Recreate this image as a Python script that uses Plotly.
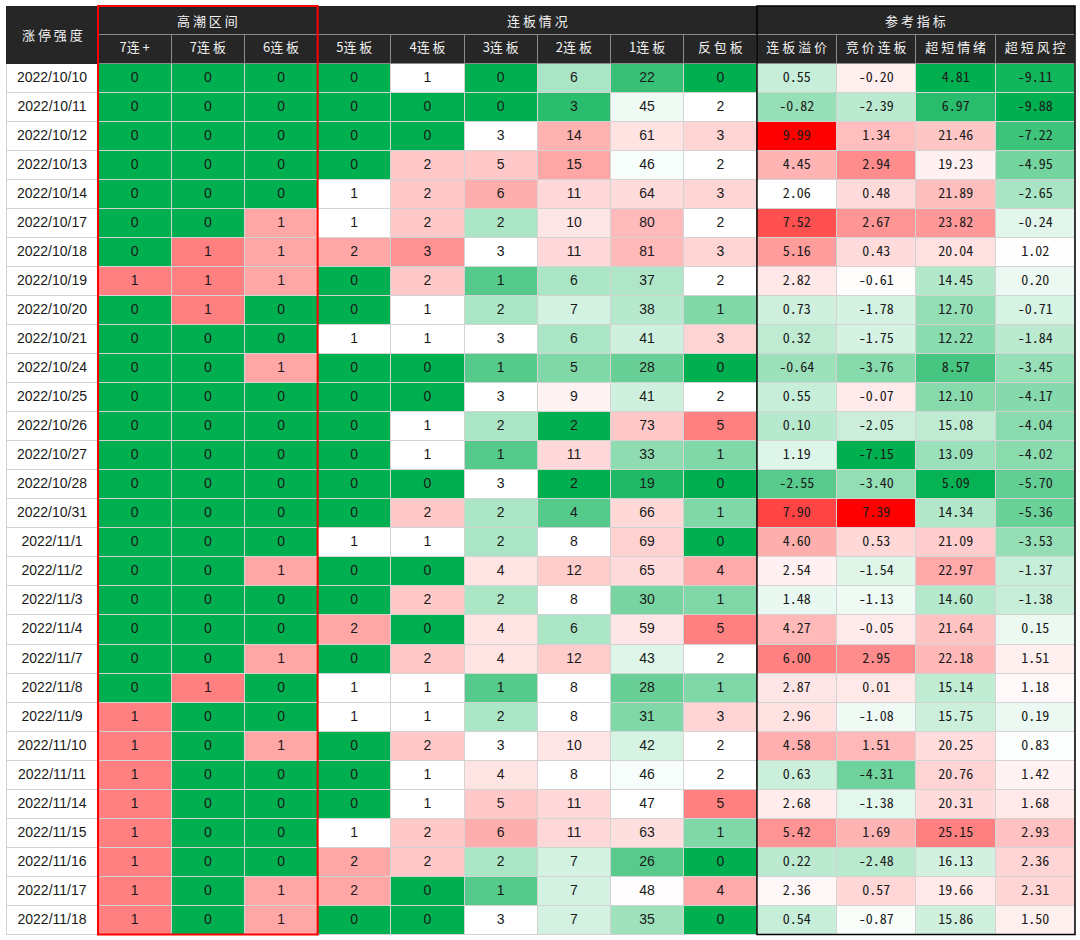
import plotly.graph_objects as go

dates = [
    "2022/10/10", "2022/10/11", "2022/10/12", "2022/10/13", "2022/10/14",
    "2022/10/17", "2022/10/18", "2022/10/19", "2022/10/20", "2022/10/21",
    "2022/10/24", "2022/10/25", "2022/10/26", "2022/10/27", "2022/10/28",
    "2022/10/31", "2022/11/1", "2022/11/2", "2022/11/3", "2022/11/4",
    "2022/11/7", "2022/11/8", "2022/11/9", "2022/11/10", "2022/11/11",
    "2022/11/14", "2022/11/15", "2022/11/16", "2022/11/17", "2022/11/18",
]

lb7_plus = [0, 0, 0, 0, 0, 0, 0, 1, 0, 0, 0, 0, 0, 0, 0, 0, 0, 0, 0, 0, 0, 0, 1, 1, 1, 1, 1, 1, 1, 1]
lb7 = [0, 0, 0, 0, 0, 0, 1, 1, 1, 0, 0, 0, 0, 0, 0, 0, 0, 0, 0, 0, 0, 1, 0, 0, 0, 0, 0, 0, 0, 0]
lb6 = [0, 0, 0, 0, 0, 1, 1, 1, 0, 0, 1, 0, 0, 0, 0, 0, 0, 1, 0, 0, 1, 0, 0, 1, 0, 0, 0, 0, 1, 1]
lb5 = [0, 0, 0, 0, 1, 1, 2, 0, 0, 1, 0, 0, 0, 0, 0, 0, 1, 0, 0, 2, 0, 1, 1, 0, 0, 0, 1, 2, 2, 0]
lb4 = [1, 0, 0, 2, 2, 2, 3, 2, 1, 1, 0, 0, 1, 1, 0, 2, 1, 0, 2, 0, 2, 1, 1, 2, 1, 1, 2, 2, 0, 0]
lb3 = [0, 0, 3, 5, 6, 2, 3, 1, 2, 3, 1, 3, 2, 1, 3, 2, 2, 4, 2, 4, 4, 1, 2, 3, 4, 5, 6, 2, 1, 3]
lb2 = [6, 3, 14, 15, 11, 10, 11, 6, 7, 6, 5, 9, 2, 11, 2, 4, 8, 12, 8, 6, 12, 8, 8, 10, 8, 11, 11, 7, 7, 7]
lb1 = [22, 45, 61, 46, 64, 80, 81, 37, 38, 41, 28, 41, 73, 33, 19, 66, 69, 65, 30, 59, 43, 28, 31, 42, 46, 47, 63, 26, 48, 35]
fanbao = [0, 2, 3, 2, 3, 2, 3, 2, 1, 3, 0, 2, 5, 1, 0, 1, 0, 4, 1, 5, 2, 1, 3, 2, 2, 5, 1, 0, 4, 0]
premium = [0.55, -0.82, 9.99, 4.45, 2.06, 7.52, 5.16, 2.82, 0.73, 0.32, -0.64, 0.55, 0.10, 1.19, -2.55,
           7.90, 4.60, 2.54, 1.48, 4.27, 6.00, 2.87, 2.96, 4.58, 0.63, 2.68, 5.42, 0.22, 2.36, 0.54]
auction = [-0.20, -2.39, 1.34, 2.94, 0.48, 2.67, 0.43, -0.61, -1.78, -1.75, -3.76, -0.07, -2.05, -7.15, -3.40,
           7.39, 0.53, -1.54, -1.13, -0.05, 2.95, 0.01, -1.08, 1.51, -4.31, -1.38, 1.69, -2.48, 0.57, -0.87]
mood = [4.81, 6.97, 21.46, 19.23, 21.89, 23.82, 20.04, 14.45, 12.70, 12.22, 8.57, 12.10, 15.08, 13.09, 5.09,
        14.34, 21.09, 22.97, 14.60, 21.64, 22.18, 15.14, 15.75, 20.25, 20.76, 20.31, 25.15, 16.13, 19.66, 15.86]
risk = [-9.11, -9.88, -7.22, -4.95, -2.65, -0.24, 1.02, 0.20, -0.71, -1.84, -3.45, -4.17, -4.04, -4.02, -5.70,
        -5.36, -3.53, -1.37, -1.38, 0.15, 1.51, 1.18, 0.19, 0.83, 1.42, 1.68, 2.93, 2.36, 2.31, 1.50]

col_names = ["7连+", "7连板", "6连板", "5连板", "4连板", "3连板", "2连板", "1连板", "反包板",
             "连板溢价", "竞价连板", "超短情绪", "超短风控"]
groups = [("高潮区间", 1, 4), ("连板情况", 4, 10), ("参考指标", 10, 14)]

int_cols = [lb7_plus, lb7, lb6, lb5, lb4, lb3, lb2, lb1, fanbao]
float_cols = [premium, auction, mood, risk]

# (value at full green, value at white, value at full red) per column
anchors = [(0, 0.5, 1.5), (0, 0.5, 1.5), (0, 0.5, 1.93), (0, 1, 3.9), (0, 1, 5.7),
           (0, 3, 12.5), (2, 8, 28), (15, 47, 170), (0, 2, 8),
           (-5, 2.1, 9.99), (-7.15, -0.7, 7.39), (4.81, 18.5, 31.8), (-9.88, 1.0, 9)]

GREEN = (0, 176, 80)
RED = (255, 0, 0)
WHITE = (255, 255, 255)
HEAD_BG = "#262626"
NBSP = "\u00a0"


def cell_color(v, lo, mid, hi):
    if v <= mid:
        t = min(1.0, (mid - v) / (mid - lo))
        end = GREEN
    else:
        t = min(1.0, (v - mid) / (hi - mid))
        end = RED
    rgb = [round(w + (e - w) * t) for w, e in zip(WHITE, end)]
    return "rgb({},{},{})".format(*rgb)


def spread(s):
    # letter-spaced header text, digits stay glued to the next char
    if s[0].isdigit():
        return s[0] + NBSP.join(s[1:])
    return NBSP.join(s)


value_cols = int_cols + float_cols
fills = [["white"] * len(dates)]
for vals, (lo, mid, hi) in zip(value_cols, anchors):
    fills.append([cell_color(v, lo, mid, hi) for v in vals])

cell_values = [dates] + [[str(v) for v in c] for c in int_cols] + \
    [[f"{v:.2f}" for v in c] for c in float_cols]

header_values = [["", ""]] + [["", spread(n)] for n in col_names]
header_line = [[HEAD_BG, HEAD_BG]] + [[HEAD_BG, "#8a8a8a"] for _ in col_names]

widths = [92] + [73.2] * 9 + [79.5] * 4
total_w = sum(widths)
cum = [0]
for w in widths:
    cum.append(cum[-1] + w)

FIG_H = 940
M_T, M_B = 6, 5
PLOT_H = FIG_H - M_T - M_B
HEAD_H = 28.5
CELL_H = 29.05
mono = "Noto Sans Mono CJK SC, Liberation Mono, monospace"
sans = "Liberation Sans, Arial, sans-serif"
head_font = dict(family="Noto Sans CJK SC", size=13, color="#f2f2f2")

fig = go.Figure(
    go.Table(
        columnwidth=widths,
        header=dict(
            values=header_values,
            fill_color=HEAD_BG,
            line=dict(color=header_line, width=1),
            font=head_font,
            align="center",
            height=HEAD_H,
        ),
        cells=dict(
            values=cell_values,
            fill_color=fills,
            line=dict(color="#d3d3d3", width=1),
            font=dict(family=[sans] * 10 + [mono] * 4, size=14, color="#1a1a1a"),
            align="center",
            height=CELL_H,
        ),
        domain=dict(x=[0, 1], y=[0, 1]),
    )
)

annotations = []
for title, a, b in groups:
    annotations.append(dict(
        text=spread(title), x=(cum[a] + cum[b]) / 2 / total_w, y=1 - HEAD_H / 2 / PLOT_H,
        xref="paper", yref="paper", showarrow=False, xanchor="center", yanchor="middle",
        font=head_font,
    ))
annotations.append(dict(
    text=spread("涨停强度"), x=cum[1] / 2 / total_w, y=1 - HEAD_H / PLOT_H,
    xref="paper", yref="paper", showarrow=False, xanchor="center", yanchor="middle",
    font=head_font,
))

table_bottom = 1 - (2 * HEAD_H + len(dates) * CELL_H) / PLOT_H
shapes = [
    dict(type="rect", xref="paper", yref="paper", x0=cum[1] / total_w, x1=cum[4] / total_w,
         y0=table_bottom, y1=1, line=dict(color="#ff0000", width=2), layer="above"),
    dict(type="rect", xref="paper", yref="paper", x0=cum[10] / total_w, x1=cum[14] / total_w,
         y0=table_bottom, y1=1, line=dict(color="#000000", width=1.5), layer="above"),
]

fig.update_layout(
    width=1080,
    height=FIG_H,
    margin=dict(l=6, r=5, t=M_T, b=M_B),
    paper_bgcolor="white",
    annotations=annotations,
    shapes=shapes,
)

# page body has a default 8px margin; drop it so the figure sits at the window corner
fig.write_html(
    "out.html",
    config={"displayModeBar": False},
    post_script="document.body.style.margin = '0';",
)
